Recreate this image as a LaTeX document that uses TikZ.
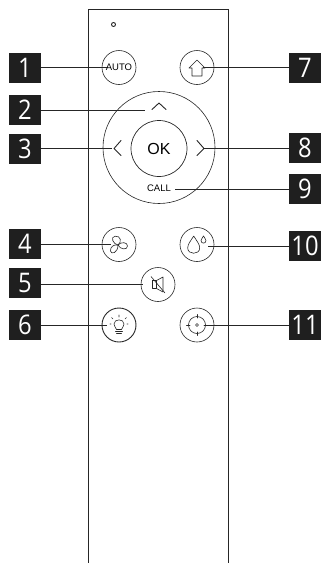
\documentclass[tikz,border=0pt]{standalone}
\usepackage{fontspec}
\setmainfont[FakeStretch=0.88]{Open Sans}
\newfontfamily\btnfont{Liberation Sans}
\tikzset{
  x=1pt,y=-1pt,
  line/.style={draw=black!85,line width=0.8pt},
  body/.style={draw=black!85,line width=1pt},
  tag/.style={fill=black!88,text=white,minimum width=32pt,minimum height=30pt,inner sep=0pt,font=\fontsize{27}{27}\selectfont},
  btn/.style={circle,draw=black!85,line width=0.6pt,minimum size=34pt,inner sep=0pt},
  icon/.style={draw=black!85,line width=0.6pt,line join=round,line cap=round},
  chevron/.style={icon,line width=0.9pt},
}
\begin{document}
\begin{tikzpicture}
\useasboundingbox (0,0) rectangle (321,563);
\draw[body] (88,563) -- (88,9.5) -- (228.5,9.5) -- (228.5,563);
\draw[line width=0.9pt,draw=black!85] (113.5,24.5) circle (2);
% buttons
\node[btn,font=\btnfont\fontsize{9.5}{10}\selectfont] (auto) at (119,67.5) {AUTO};
\node[btn] (home) at (197,67.5) {};
\node[circle,draw=black!85,line width=0.6pt,minimum size=112pt,inner sep=0pt] (ring) at (159,147.5) {};
\node[circle,draw=black!85,line width=0.7pt,minimum size=56pt,inner sep=0pt,font=\btnfont\fontsize{16}{18}\selectfont] (ok) at (159,148.5) {OK};
\node[font=\btnfont\fontsize{9.5}{10}\selectfont,inner sep=0pt] (call) at (159,188.5) {CALL};
\node[btn] (fan) at (119,244.5) {};
\node[btn] (drop) at (197,244.5) {};
\node[btn] (mute) at (158,284.5) {};
\node[btn,line width=0.9pt] (bulb) at (119,325) {};
\node[btn] (target) at (197,325) {};
% tags
\node[tag] (t1) at (25,68) {1};
\node[tag] (t2) at (25,110) {2};
\node[tag] (t3) at (25,149) {3};
\node[tag] (t4) at (25,244) {4};
\node[tag] (t5) at (25,283) {5};
\node[tag] (t6) at (25,325) {6};
\node[tag] (t7) at (305,68) {7};
\node[tag] (t8) at (305,148) {8};
\node[tag] (t9) at (305,189) {9};
\node[tag] (t10) at (305,246) {10};
\node[tag] (t11) at (305,325) {11};
% connector ends
\coordinate (e1) at (107,67.5);
\coordinate (e2) at (144.5,110);
\coordinate (e3) at (112,148);
\coordinate (e4) at (111,244.5);
\coordinate (e5) at (143,284);
\coordinate (e6) at (107,325);
\coordinate (e7) at (203,67.5);
\coordinate (e8) at (204,148);
\coordinate (e9) at (175,189);
\coordinate (e10) at (208,246.5);
\coordinate (e11) at (206,325);
\foreach \a/\b in {t1/e1,t2/e2,t3/e3,t4/e4,t5/e5,t6/e6}
  \draw[line] (\a.east |- \b) -- (\b);
\foreach \a/\b in {t7/e7,t8/e8,t9/e9,t10/e10,t11/e11}
  \draw[line] (\a.west |- \b) -- (\b);
% arrows
\draw[chevron] (152,109.5) -- (159,103) -- (166,109.5);
\draw[chevron] (121,140.5) -- (114,148.5) -- (121,155.5);
\draw[chevron] (197,140.5) -- (204,148.5) -- (197,155.5);
% home
\draw[icon] (189,68) -- (197,60) -- (205,68) -- (202,68) -- (202,76) -- (192,76) -- (192,68) -- cycle;
% fan
\begin{scope}[shift={(118,245)}]
\draw[icon] (0,0) .. controls (-5,-1) and (-8,-8) .. (-3,-8.8) .. controls (3,-9.5) and (4,-3) .. (0,0);
\draw[icon] (0,0) .. controls (3,-3.5) and (9.5,-3) .. (9.5,1) .. controls (9.5,5.5) and (2,4.5) .. (0,0);
\draw[icon] (0,0) .. controls (-4,-1) and (-8,2) .. (-7.5,6) .. controls (-7,10) and (0,8) .. (0,0);
\end{scope}
% drops
\begin{scope}[shift={(193.7,247)}]
\draw[icon] (0,-11) .. controls (-3,-6) and (-6,-3) .. (-6,1) .. controls (-6,8) and (6,8) .. (6,1) .. controls (6,-3) and (3,-6) .. (0,-11);
\end{scope}
\begin{scope}[shift={(203.5,240.5)}]
\draw[icon] (0,-4.5) .. controls (-1,-2.5) and (-2.5,-1) .. (-2.5,0) .. controls (-2.5,3.5) and (2.5,3.5) .. (2.5,0) .. controls (2.5,-1) and (1,-2.5) .. (0,-4.5);
\end{scope}
% mute
\begin{scope}[shift={(158,284.5)}]
\draw[icon] (-6,-4) rectangle (-1.5,4);
\draw[icon] (-1.5,-4) -- (5,-7.5) -- (5,7.5) -- (-1.5,4);
\draw[icon] (-7,-8) -- (7,8.5);
\end{scope}
% bulb
\begin{scope}[shift={(119,325)}]
\draw[icon] (-2.5,4.5) .. controls (-3,2.5) and (-5,1.5) .. (-5,-1) .. controls (-5,-6.5) and (5,-6.5) .. (5,-1) .. controls (5,1.5) and (3,2.5) .. (2.5,4.5) -- cycle;
\draw[icon] (-3.5,6.5) -- (3.5,6.5) (-2.5,8.3) -- (2.5,8.3);
\draw[icon] (0,-10) -- (0,-8) (-7.5,-7.5) -- (-6,-6) (7.5,-7.5) -- (6,-6) (-9,-1) -- (-8,-1) (9,-1) -- (8,-1);
\end{scope}
% target
\begin{scope}[shift={(197,325)}]
\draw[icon] (0,0) circle (8.5);
\draw[icon] (0,0) circle (1.5);
\draw[icon] (0,-10.5) -- (0,-7) (0,7) -- (0,10.5) (-10.5,0) -- (-7,0) (7,0) -- (10.5,0);
\end{scope}
\end{tikzpicture}
\end{document}
